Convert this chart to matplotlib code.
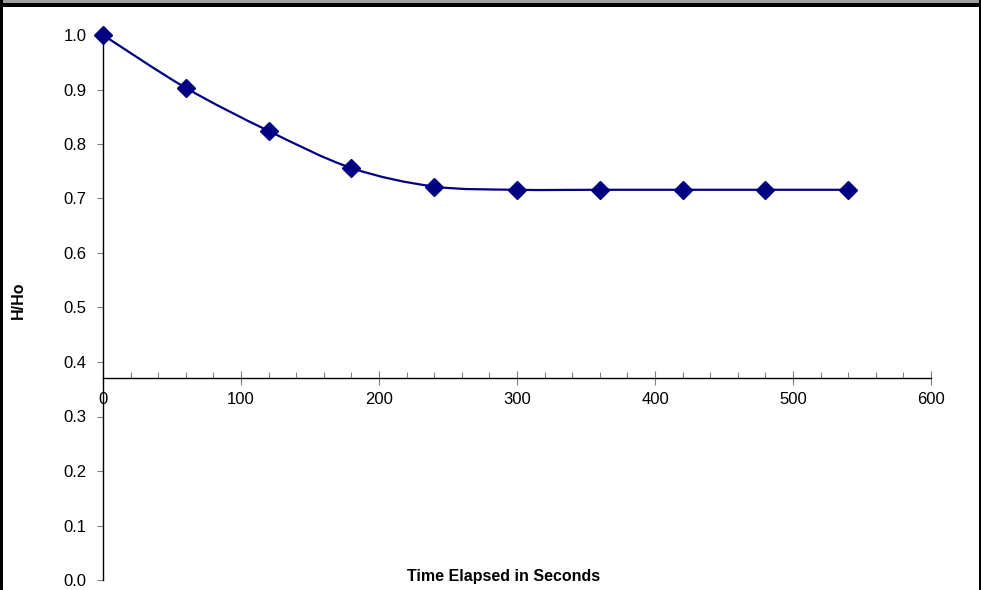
import matplotlib.pyplot as plt
import numpy as np
from matplotlib.path import Path
from matplotlib.patches import PathPatch, Rectangle
from matplotlib.ticker import MultipleLocator

plt.rcParams['font.family'] = ['Liberation Sans', 'DejaVu Sans']

# data
time_s = [0, 60, 120, 180, 240, 300, 360, 420, 480, 540]
h_ratio = [1.0, 0.903, 0.824, 0.756, 0.722, 0.716, 0.716, 0.716, 0.716, 0.716]

NAVY = '#000080'
W, H = 981, 590


def smooth_path(xs, ys):
    """Catmull-Rom style bezier through the points (like Excel's smoothed line)"""
    pts = np.column_stack([xs, ys]).astype(float)
    n = len(pts)
    verts = [pts[0]]
    codes = [Path.MOVETO]
    for i in range(n - 1):
        p0 = pts[max(i - 1, 0)]
        p1 = pts[i]
        p2 = pts[i + 1]
        p3 = pts[min(i + 2, n - 1)]
        c1 = p1 + (p2 - p0) / 6.0
        c2 = p2 - (p3 - p1) / 6.0
        verts += [c1, c2, p2]
        codes += [Path.CURVE4] * 3
    return Path(verts, codes)


fig = plt.figure(figsize=(W / 100, H / 100), dpi=100)
ax = fig.add_axes([103 / W, 10 / H, (931 - 103) / W, (580 - 35) / H])

ax.add_patch(PathPatch(smooth_path(time_s, h_ratio), facecolor='none',
                       edgecolor=NAVY, linewidth=1.6, clip_on=False, zorder=3))
ax.plot(time_s, h_ratio, linestyle='none', marker='D', markersize=9,
        color=NAVY, clip_on=False, zorder=4)

ax.set_xlim(0, 600)
ax.set_ylim(0, 1.0)

for s in ['top', 'right']:
    ax.spines[s].set_visible(False)
ax.spines['bottom'].set_position(('data', 0.37))
ax.spines['left'].set_linewidth(1.0)
ax.spines['bottom'].set_linewidth(1.0)

ax.xaxis.set_major_locator(MultipleLocator(100))
ax.xaxis.set_minor_locator(MultipleLocator(20))
ax.yaxis.set_major_locator(MultipleLocator(0.1))
ax.yaxis.set_major_formatter(plt.FuncFormatter(lambda v, p: f'{v:.1f}'))

ax.tick_params(axis='x', which='major', direction='inout', length=10,
               width=0.8, color='#808080', pad=5, labelsize=12)
ax.tick_params(axis='x', which='minor', direction='in', length=4,
               width=0.8, color='#808080')
ax.tick_params(axis='y', which='major', direction='out', length=4,
               width=0.8, color='#808080', pad=8, labelsize=12)

fig.text(18 / W, 1 - 300 / H, 'H/Ho', rotation=90, fontweight='bold',
         fontsize=11.5, ha='center', va='center')
fig.text(504 / W, 1 - 577 / H, 'Time Elapsed in Seconds', fontweight='bold',
         fontsize=11.5, ha='center', va='center')

# frame pieces from the original export
fig.patches.append(Rectangle((0, 1 - 3 / H), 1, 3 / H, transform=fig.transFigure,
                             facecolor='#a0a0a0', edgecolor='none', zorder=10))
fig.patches.append(Rectangle((0, 1 - 7 / H), 1, 4 / H, transform=fig.transFigure,
                             facecolor='black', edgecolor='none', zorder=10))
fig.patches.append(Rectangle((0, 0), 3 / W, 1, transform=fig.transFigure,
                             facecolor='black', edgecolor='none', zorder=10))
fig.patches.append(Rectangle((1 - 2 / W, 0), 2 / W, 1, transform=fig.transFigure,
                             facecolor='black', edgecolor='none', zorder=10))

fig.savefig('out.png', dpi=100, facecolor='white')
